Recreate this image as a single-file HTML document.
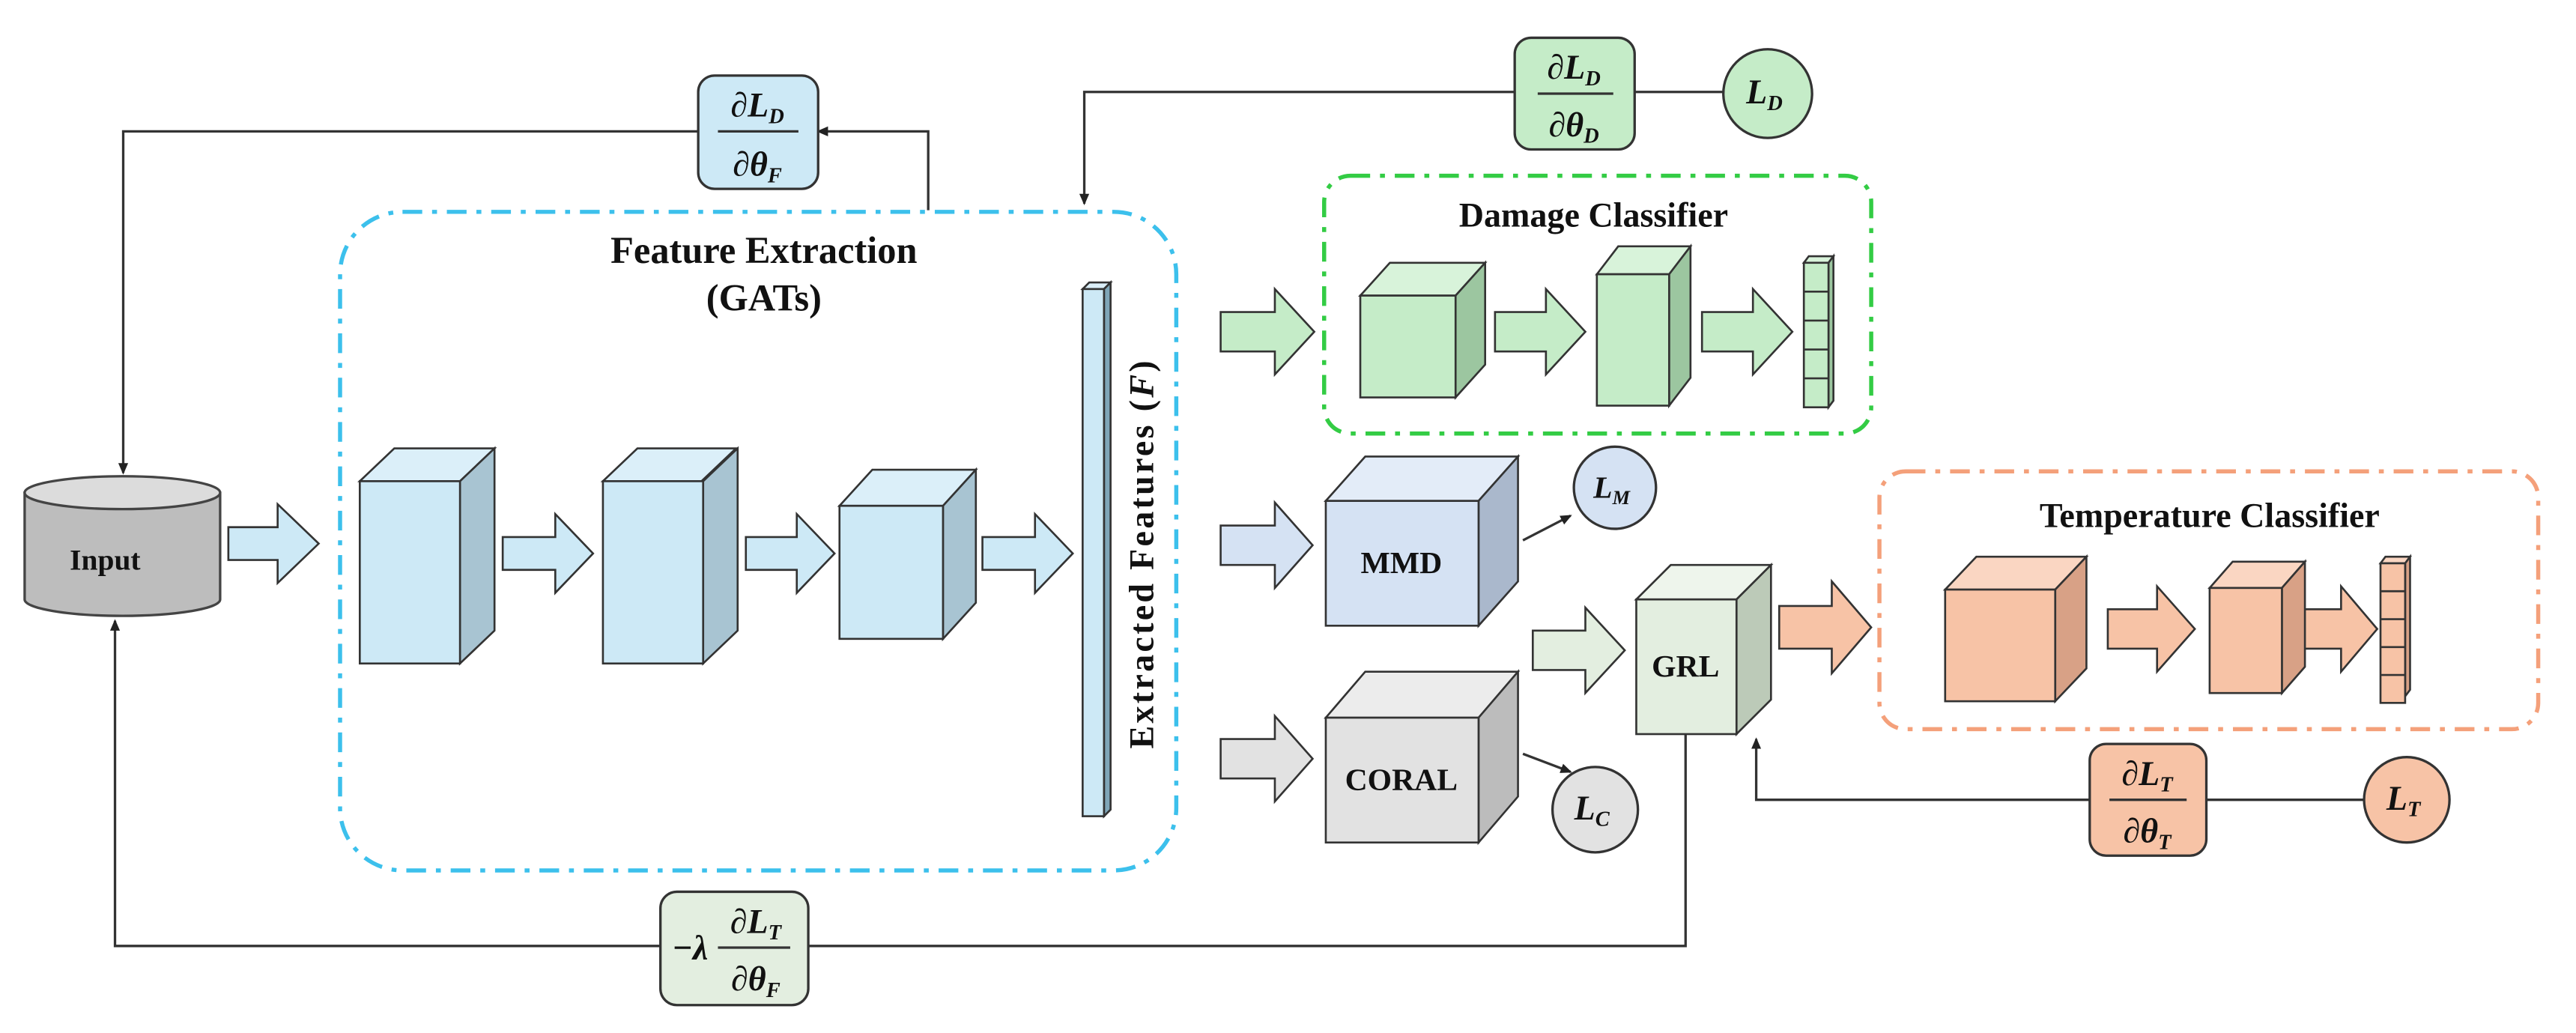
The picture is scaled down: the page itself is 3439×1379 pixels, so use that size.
<!DOCTYPE html>
<html><head><meta charset="utf-8"><style>
html,body{margin:0;padding:0;background:#fff;}
svg{display:block;}
text{font-family:"Liberation Serif",serif;font-weight:bold;fill:#111;}
.it{font-style:italic;}
</style></head><body>
<svg width="3439" height="1379" viewBox="0 0 1568 629" preserveAspectRatio="none" xmlns="http://www.w3.org/2000/svg">
<defs>
<marker id="ah" markerWidth="8" markerHeight="8" refX="6" refY="4" orient="auto" markerUnits="userSpaceOnUse"><path d="M0,1 L7,4 L0,7 Z" fill="#222"/></marker>
</defs>
<g fill="none" stroke="#333" stroke-width="1.5">
<polyline points="565,128 565,80 498,80" marker-end="url(#ah)"/>
<polyline points="425,80 75,80 75,288" marker-end="url(#ah)"/>
<polyline points="1026,447 1026,576 492,576"/>
<polyline points="402,576 70,576 70,378" marker-end="url(#ah)"/>
<polyline points="922,56 660,56 660,124" marker-end="url(#ah)"/>
<line x1="995" y1="56" x2="1050" y2="56"/>
<polyline points="1272,487 1069,487 1069,450" marker-end="url(#ah)"/>
<line x1="1343" y1="487" x2="1439" y2="487"/>
<line x1="927" y1="329" x2="956" y2="314" marker-end="url(#ah)"/>
<line x1="927" y1="459" x2="956" y2="470" marker-end="url(#ah)"/>
</g>
<rect x="207" y="129" width="509" height="401" rx="38" fill="none" stroke="#3cc0ec" stroke-width="2.5" stroke-dasharray="12,6,3,6"/>
<rect x="806" y="107" width="333" height="157" rx="16" fill="none" stroke="#33cc44" stroke-width="2.5" stroke-dasharray="12,6,3,6"/>
<rect x="1144" y="287" width="401" height="157" rx="16" fill="none" stroke="#f4a07a" stroke-width="2.5" stroke-dasharray="12,6,3,6"/>
<text x="465" y="160" font-size="23" text-anchor="middle">Feature Extraction</text>
<text x="465" y="189" font-size="23" text-anchor="middle">(GATs)</text>
<text x="970" y="138" font-size="21" text-anchor="middle">Damage Classifier</text>
<text x="1345" y="321" font-size="21" text-anchor="middle">Temperature Classifier</text>
<g stroke="#444" stroke-width="1.5">
<path d="M15,300 L15,365 A59.5,10 0 0 0 134,365 L134,300 Z" fill="#bdbdbd"/>
<ellipse cx="74.5" cy="300" rx="59.5" ry="10" fill="#dcdcdc"/>
</g>
<text x="64" y="347" font-size="18" text-anchor="middle">Input</text>
<g stroke="#333" stroke-width="1.2">
<path d="M139,321 h30 v-14 l25,24 -25,24 v-14 h-30 Z" fill="#cde9f6"/>
<path d="M306,327 h32 v-14 l23,24 -23,24 v-14 h-32 Z" fill="#cde9f6"/>
<path d="M454,327 h31 v-14 l23,24 -23,24 v-14 h-31 Z" fill="#cde9f6"/>
<path d="M598,327 h32 v-14 l23,24 -23,24 v-14 h-32 Z" fill="#cde9f6"/>
<path d="M743,190 h33 v-14 l24,26 -24,26 v-14 h-33 Z" fill="#c5ecc8"/>
<path d="M910,190 h31 v-14 l24,26 -24,26 v-14 h-31 Z" fill="#c5ecc8"/>
<path d="M1036,190 h31 v-14 l24,26 -24,26 v-14 h-31 Z" fill="#c5ecc8"/>
<path d="M743,320 h33 v-14 l23,26 -23,26 v-14 h-33 Z" fill="#d5e2f3"/>
<path d="M743,450 h33 v-14 l23,26 -23,26 v-14 h-33 Z" fill="#e2e2e2"/>
<path d="M933,384 h32 v-14 l24,26 -24,26 v-14 h-32 Z" fill="#e3eee0"/>
<path d="M1083,369 h32 v-15 l24,28 -24,28 v-15 h-32 Z" fill="#f7c3a6"/>
<path d="M1283,371 h30 v-14 l23,26 -23,26 v-14 h-30 Z" fill="#f7c3a6"/>
<path d="M1395,371 h30 v-14 l22,26 -22,26 v-14 h-30 Z" fill="#f7c3a6"/>
</g>
<g stroke="#333" stroke-width="1.2">
<path d="M219,293 l21,-20 h61 l-21,20 Z" fill="#dbeff9"/><path d="M280,293 l21,-20 v111 l-21,20 Z" fill="#a8c4d2"/><rect x="219" y="293" width="61" height="111" fill="#cde9f6"/>
<path d="M367,293 l21,-20 h60 l-21,20 Z" fill="#dbeff9"/><path d="M428,293 l21,-20 v111 l-21,20 Z" fill="#a8c4d2"/><rect x="367" y="293" width="61" height="111" fill="#cde9f6"/>
<path d="M511,308 l20,-22 h63 l-20,22 Z" fill="#dbeff9"/><path d="M574,308 l20,-22 v81 l-20,22 Z" fill="#a8c4d2"/><rect x="511" y="308" width="63" height="81" fill="#cde9f6"/>
<path d="M659,176 l4,-4 h13 l-4,4 Z" fill="#dbeff9"/><path d="M672,176 l4,-4 v321 l-4,4 Z" fill="#7fa6b8"/><rect x="659" y="176" width="13" height="321" fill="#cde9f6"/>
<path d="M828,180 l18,-20 h58 l-18,20 Z" fill="#d8f3da"/><path d="M886,180 l18,-20 v62 l-18,20 Z" fill="#9cc6a0"/><rect x="828" y="180" width="58" height="62" fill="#c5ecc8"/>
<path d="M972,167 l13,-17 h44 l-13,17 Z" fill="#d8f3da"/><path d="M1016,167 l13,-17 v80 l-13,17 Z" fill="#9cc6a0"/><rect x="972" y="167" width="44" height="80" fill="#c5ecc8"/>
<path d="M1098,160 l3,-4 h15 l-3,4 Z" fill="#d8f3da"/><path d="M1113,160 l3,-4 v88 l-3,4 Z" fill="#9cc6a0"/><rect x="1098" y="160" width="15" height="88" fill="#c5ecc8"/>
<path d="M1098,177.6 h15 M1098,195.2 h15 M1098,212.8 h15 M1098,230.4 h15"/>
<path d="M807,305 l24,-27 h93 l-24,27 Z" fill="#e3ecf8"/><path d="M900,305 l24,-27 v76 l-24,27 Z" fill="#aab8cc"/><rect x="807" y="305" width="93" height="76" fill="#d5e2f3"/>
<path d="M807,437 l24,-28 h93 l-24,28 Z" fill="#ececec"/><path d="M900,437 l24,-28 v76 l-24,28 Z" fill="#bcbcbc"/><rect x="807" y="437" width="93" height="76" fill="#e2e2e2"/>
<path d="M996,365 l21,-21 h61 l-21,21 Z" fill="#eef5ec"/><path d="M1057,365 l21,-21 v82 l-21,21 Z" fill="#bccab8"/><rect x="996" y="365" width="61" height="82" fill="#e3eee0"/>
<path d="M1184,359 l19,-20 h67 l-19,20 Z" fill="#fad6c2"/><path d="M1251,359 l19,-20 v68 l-19,20 Z" fill="#d8a186"/><rect x="1184" y="359" width="67" height="68" fill="#f7c3a6"/>
<path d="M1345,358 l14,-16 h44 l-14,16 Z" fill="#fad6c2"/><path d="M1389,358 l14,-16 v64 l-14,16 Z" fill="#d8a186"/><rect x="1345" y="358" width="44" height="64" fill="#f7c3a6"/>
<path d="M1449,343 l3,-4 h15 l-3,4 Z" fill="#fad6c2"/><path d="M1464,343 l3,-4 v81 l-3,4 Z" fill="#d8a186"/><rect x="1449" y="343" width="15" height="85" fill="#f7c3a6"/>
<path d="M1449,360 h15 M1449,377 h15 M1449,394 h15 M1449,411 h15"/>
</g>
<text x="853" y="349" font-size="19" text-anchor="middle">MMD</text>
<text x="853" y="481" font-size="19" text-anchor="middle">CORAL</text>
<text x="1026" y="412" font-size="19" text-anchor="middle">GRL</text>
<text x="702" y="337" font-size="21" letter-spacing="1.5" text-anchor="middle" transform="rotate(-90 702 337)">Extracted Features (<tspan class="it">F</tspan>)</text>
<g stroke="#333" stroke-width="1.5">
<rect x="425" y="46" width="73" height="69" rx="10" fill="#cde9f6"/>
<rect x="922" y="23" width="73" height="68" rx="10" fill="#c5ecc8"/>
<rect x="1272" y="453" width="71" height="68" rx="10" fill="#f7c3a6"/>
<rect x="402" y="543" width="90" height="69" rx="10" fill="#e3eee0"/>
<line x1="437" y1="80" x2="486" y2="80"/>
<line x1="936" y1="57" x2="982" y2="57"/>
<line x1="1284" y1="487" x2="1331" y2="487"/>
<line x1="437" y1="577" x2="481" y2="577"/>
<circle cx="1076" cy="57" r="27" fill="#c5ecc8"/>
<circle cx="983" cy="297" r="25" fill="#d5e2f3"/>
<circle cx="971" cy="493" r="26" fill="#e2e2e2"/>
<circle cx="1465" cy="487" r="26" fill="#f7c3a6"/>
</g>
<g font-size="21">
<text x="461" y="71" text-anchor="middle" class="it">∂L<tspan font-size="13" dy="4">D</tspan></text>
<text x="461" y="107" text-anchor="middle" class="it">∂θ<tspan font-size="13" dy="4">F</tspan></text>
<text x="958" y="48" text-anchor="middle" class="it">∂L<tspan font-size="13" dy="4">D</tspan></text>
<text x="958" y="83" text-anchor="middle" class="it">∂θ<tspan font-size="13" dy="4">D</tspan></text>
<text x="1307" y="478" text-anchor="middle" class="it">∂L<tspan font-size="13" dy="4">T</tspan></text>
<text x="1307" y="513" text-anchor="middle" class="it">∂θ<tspan font-size="13" dy="4">T</tspan></text>
<text x="420" y="584" text-anchor="middle" class="it">−λ</text>
<text x="460" y="568" text-anchor="middle" class="it">∂L<tspan font-size="13" dy="4">T</tspan></text>
<text x="460" y="603" text-anchor="middle" class="it">∂θ<tspan font-size="13" dy="4">F</tspan></text>
<text x="1074" y="63" text-anchor="middle" class="it">L<tspan font-size="13" dy="4">D</tspan></text>
<text x="981" y="303" text-anchor="middle" class="it" font-size="19">L<tspan font-size="12" dy="4">M</tspan></text>
<text x="969" y="499" text-anchor="middle" class="it">L<tspan font-size="13" dy="4">C</tspan></text>
<text x="1463" y="493" text-anchor="middle" class="it">L<tspan font-size="13" dy="4">T</tspan></text>
</g>
</svg>
</body></html>
